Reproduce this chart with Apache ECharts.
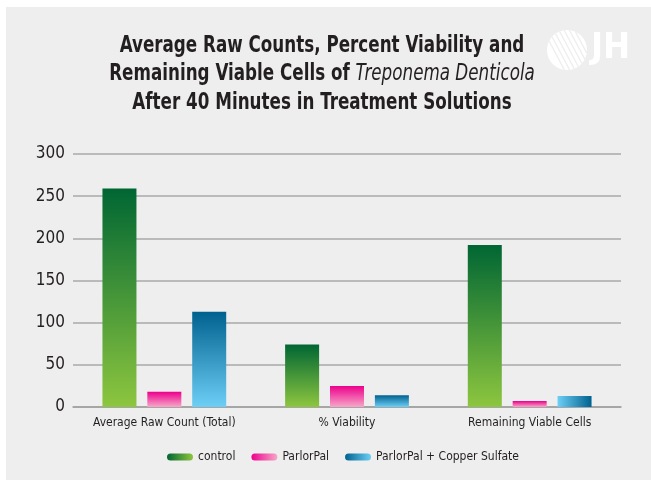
<!DOCTYPE html>
<html><head><meta charset="utf-8">
<script src="https://cdn.jsdelivr.net/npm/echarts@6/dist/echarts.min.js"></script>
<style>html,body{margin:0;padding:0;background:#fff}#c{width:651px;height:480px}</style>
</head><body><div id="c"></div>
<script>
const categories = ['Average Raw Count (Total)', '% Viability', 'Remaining Viable Cells'];
const seriesNames = ['control', 'ParlorPal', 'ParlorPal + Copper Sulfate'];
const controlValues = [259, 74, 192];
const parlorPalValues = [18, 25, 7];
const copperValues = [113, 14, 13];
const yTicks = [0, 50, 100, 150, 200, 250, 300];
const titleLines = [
  ['Average Raw Counts, Percent Viability and', ''],
  ['Remaining Viable Cells of ', 'Treponema Denticola'],
  ['After 40 Minutes in Treatment Solutions', '']
];

const FONT = '"DejaVu Sans Condensed", "Liberation Sans Narrow", sans-serif';
function vgrad(top, bottom) {
  return new echarts.graphic.LinearGradient(0, 0, 0, 1, [{offset: 0, color: top}, {offset: 1, color: bottom}]);
}
function hgrad(l, r) {
  return new echarts.graphic.LinearGradient(0, 0, 1, 0, [{offset: 0, color: l}, {offset: 1, color: r}]);
}
const cols = {
  control: ['#006633', '#8dc63f'],
  pal: ['#ec008c', '#f7a8c8'],
  cu: ['#00618f', '#6dcff6']
};

const chart = echarts.init(document.getElementById('c'), null, {renderer: 'canvas'});
const copperData = copperValues.map((v, i) => i === 2
  ? {value: v, itemStyle: {color: hgrad(cols.cu[1], cols.cu[0])}}
  : v);

const titleGraphics = titleLines.map((ln, i) => ({
  type: 'text', z: 5,
  x: 322, y: 46 + i * 28.5, scaleX: 0.81,
  style: {
    text: '{a|' + ln[0] + '}' + (ln[1] ? '{i|' + ln[1] + '}' : ''),
    align: 'center', verticalAlign: 'middle',
    rich: {
      a: {fontFamily: FONT, fontWeight: 'bold', fontSize: 23, fill: '#231f20'},
      i: {fontFamily: FONT, fontWeight: 'normal', fontStyle: 'italic', fontSize: 23, fill: '#231f20'}
    }
  }
}));

// logo: white globe with background-coloured diagonal stripes
const logo = [{type: 'circle', z: 1, shape: {cx: 567, cy: 50, r: 20}, style: {fill: '#ffffff'}}];
(function () {
  const cx = 567, cy = 50, r = 20, a = 62 * Math.PI / 180;
  const d = [Math.cos(a), Math.sin(a)], n = [-Math.sin(a), Math.cos(a)];
  for (let t = -16; t <= 16; t += 4.6) {
    const h = Math.sqrt(r * r - t * t);
    logo.push({type: 'line', z: 2, shape: {
      x1: cx + t * n[0] - h * d[0], y1: cy + t * n[1] - h * d[1],
      x2: cx + t * n[0] + h * d[0], y2: cy + t * n[1] + h * d[1]},
      style: {stroke: '#eeeeee', lineWidth: 1.3}});
  }
})();
logo.push({type: 'text', z: 1, x: 591, y: 31, style: {text: 'JH', fill: '#ffffff', font: 'bold 36px ' + FONT}});

const pill = 'path://M3.5,0 L22.5,0 A3.5,3.5 0 0 1 22.5,7 L3.5,7 A3.5,3.5 0 0 1 3.5,0 Z';

chart.setOption({
  animation: false,
  backgroundColor: '#ffffff',
  graphic: [
    {type: 'rect', z: -10, shape: {x: 6, y: 7, width: 645, height: 473}, style: {fill: '#eeeeee'}}
  ].concat(logo, titleGraphics),
  legend: {
    left: 162, top: 446, itemWidth: 26, itemHeight: 7, itemGap: 16,
    icon: pill,
    textStyle: {fontFamily: FONT, fontSize: 12, color: '#231f20'},
    data: [
      {name: seriesNames[0], itemStyle: {color: hgrad(cols.control[0], cols.control[1])}},
      {name: seriesNames[1], itemStyle: {color: hgrad(cols.pal[0], cols.pal[1])}},
      {name: seriesNames[2], itemStyle: {color: hgrad(cols.cu[0], cols.cu[1])}}
    ]
  },
  grid: {left: 73, right: 30, top: 154, bottom: 73, containLabel: false},
  xAxis: {
    type: 'category', data: categories,
    axisLine: {lineStyle: {color: '#a0a0a0', width: 1.5}},
    axisTick: {show: false},
    axisLabel: {interval: 0, fontFamily: FONT, fontSize: 12, color: '#231f20', margin: 10}
  },
  yAxis: {
    type: 'value', min: yTicks[0], max: yTicks[yTicks.length - 1], interval: 50,
    axisLine: {show: false}, axisTick: {show: false},
    axisLabel: {fontFamily: FONT, fontSize: 17, color: '#231f20', margin: 8},
    splitLine: {lineStyle: {color: '#a8a8a8', width: 1.5}}
  },
  series: [
    {name: seriesNames[0], type: 'bar', data: controlValues, barWidth: 34, barGap: '32%',
     itemStyle: {color: vgrad(cols.control[0], cols.control[1])}},
    {name: seriesNames[1], type: 'bar', data: parlorPalValues, barWidth: 34, barGap: '32%',
     itemStyle: {color: vgrad(cols.pal[0], cols.pal[1])}},
    {name: seriesNames[2], type: 'bar', data: copperData, barWidth: 34, barGap: '32%',
     itemStyle: {color: vgrad(cols.cu[0], cols.cu[1])}}
  ]
});
</script>
</body></html>
